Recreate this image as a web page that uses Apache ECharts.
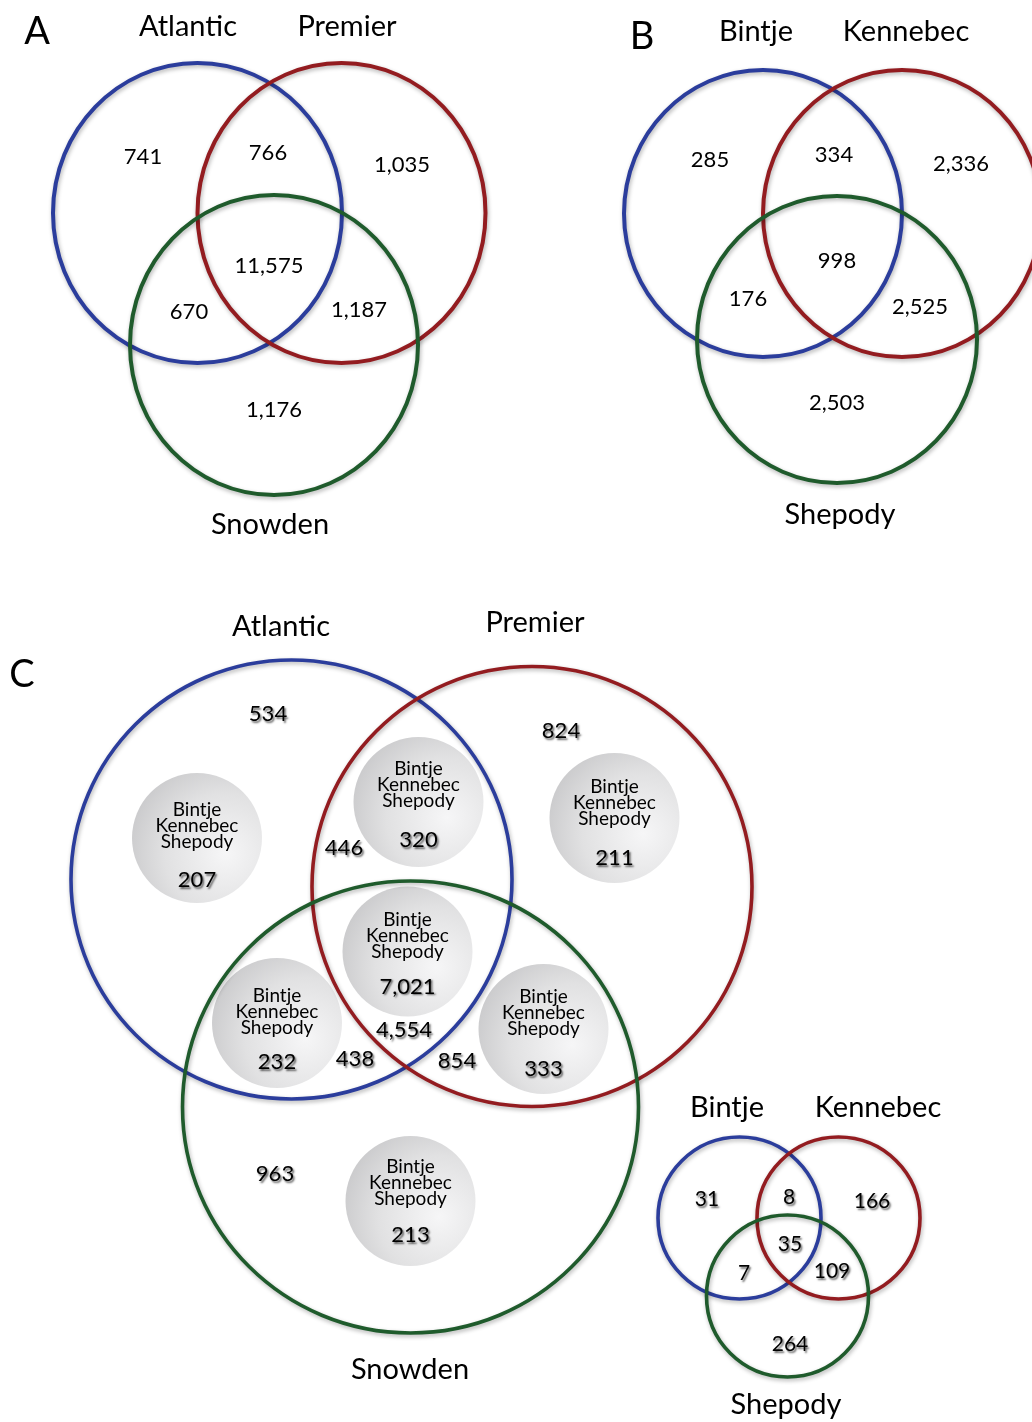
<!DOCTYPE html>
<html>
<head>
<meta charset="utf-8">
<script src="https://cdn.jsdelivr.net/npm/echarts@6/dist/echarts.min.js"></script>
<style>html,body{margin:0;padding:0;background:#fff}#c{width:1032px;height:1422px}</style>
</head>
<body>
<div id="c"></div>
<script>
// ---------- values (region order: only1, only2, only3, 1&2, 1&3, 2&3, all) ----------
const panelLetters = ['A', 'B', 'C'];
const setsA = ['Atlantic', 'Premier', 'Snowden'];
const countsA = [741, 1035, 1176, 766, 670, 1187, 11575];
const setsB = ['Bintje', 'Kennebec', 'Shepody'];
const countsB = [285, 2336, 2503, 334, 176, 2525, 998];
const setsC = ['Atlantic', 'Premier', 'Snowden'];
const countsC = [534, 824, 963, 446, 438, 854, 4554];
const subSets = ['Bintje', 'Kennebec', 'Shepody'];
const countsCsub = [207, 211, 213, 320, 232, 333, 7021];
const setsD = ['Bintje', 'Kennebec', 'Shepody'];
const countsD = [31, 166, 264, 8, 7, 109, 35];

// ---------- layout (positions / sizes, in canvas units) ----------
const letterPos = [[37, 32], [642, 37], [22, 675]];
const circlesA = [[197.5, 213, 144.5, 150], [341.5, 213, 144, 150], [274, 345, 144, 150]];
const circlesB = [[763, 213.5, 139, 143.5], [902, 213.5, 139, 143.5], [837, 339.5, 140, 143.5]];
const circlesC = [[291.5, 879.5, 220.5, 219.5], [532, 886.5, 220, 220], [410.5, 1107, 228, 226]];
const circlesD = [[739.5, 1218, 81.5, 81], [838.5, 1218, 81.5, 81], [787.5, 1296, 81, 81]];
const strokeWidths = [4, 4, 3.6, 3.6];
const setPosA = [[188, 27], [347, 27], [270, 525]];
const setPosB = [[756, 32], [906, 32], [840, 515]];
const setPosC = [[281, 627], [535, 623], [410, 1370]];
const setPosD = [[727, 1108], [878, 1108], [786, 1405]];
const labelPosA = [[143, 157], [402, 165], [274, 410], [268, 153], [189, 312], [359, 310], [269, 266]];
const labelPosB = [[710, 160], [961, 164], [837, 403], [834, 155], [748, 299], [920, 307], [837, 261]];
const labelPosC = [[268, 714], [561, 731], [275, 1174], [344, 848], [355, 1059], [457, 1061], [404, 1030]];
const labelPosD = [[707, 1199], [872, 1201], [790, 1344], [789, 1197], [744, 1273], [832, 1271], [790, 1244]];
// gray discs: [cx, cy, r, middle-name dy, number dy]
const discLayout = [[197, 838, 65, -12, 42], [614.5, 818, 65, -15, 40], [410.5, 1201, 65, -18, 34],
                    [418.5, 802, 65, -17, 38], [277, 1023, 65, -11, 39], [543.5, 1029, 65, -16, 40],
                    [407.5, 951.5, 65, -16, 35]];

const COLORS = ['#2b3d9c', '#931c20', '#1f5b2c'];
const FONT = 'Lato, "Open Sans", "DejaVu Sans", sans-serif';
const fmt = v => v.toLocaleString('en-US');

// ---------- build series data ----------
const ringData = [];
[circlesA, circlesB, circlesC, circlesD].forEach((list, p) => {
  list.forEach((c, i) => ringData.push([c[0], c[1], c[2], c[3], i, strokeWidths[p]]));
});

const discData = discLayout.map(d => [d[0], d[1], d[2]]);

const texts = []; // {text, kind}
const textData = [];
function addText(x, y, text, kind) {
  texts.push({ text: text, kind: kind });
  textData.push([x, y, texts.length - 1]);
}
panelLetters.forEach((l, i) => addText(letterPos[i][0], letterPos[i][1], l, 'letter'));
setsA.forEach((s, i) => addText(setPosA[i][0], setPosA[i][1], s, 'set'));
setsB.forEach((s, i) => addText(setPosB[i][0], setPosB[i][1], s, 'set'));
setsC.forEach((s, i) => addText(setPosC[i][0], setPosC[i][1], s, 'set'));
setsD.forEach((s, i) => addText(setPosD[i][0], setPosD[i][1], s, 'set'));
countsA.forEach((v, i) => addText(labelPosA[i][0], labelPosA[i][1], fmt(v), 'num'));
countsB.forEach((v, i) => addText(labelPosB[i][0], labelPosB[i][1], fmt(v), 'num'));
countsC.forEach((v, i) => addText(labelPosC[i][0], labelPosC[i][1], fmt(v), 'numC'));
countsD.forEach((v, i) => addText(labelPosD[i][0], labelPosD[i][1], fmt(v), 'numD'));
countsCsub.forEach((v, i) => {
  const d = discLayout[i];
  subSets.forEach((s, k) => addText(d[0], d[1] + d[3] + (k - 1) * 16, s, 'sub'));
  addText(d[0], d[1] + d[4], fmt(v), 'numC');
});

const KIND = {
  letter: { fontSize: 38, shadow: false },
  set: { fontSize: 29, shadow: false },
  num: { fontSize: 22, shadow: false },
  numC: { fontSize: 22, shadow: true },
  numD: { fontSize: 21, shadow: true },
  sub: { fontSize: 19, shadow: false }
};

// ---------- chart ----------
const chart = echarts.init(document.getElementById('c'), null, { renderer: 'canvas', width: 1032, height: 1422 });

chart.setOption({
  animation: false,
  backgroundColor: '#ffffff',
  grid: { left: 0, right: 0, top: 0, bottom: 0 },
  xAxis: { type: 'value', min: 0, max: 1032, show: false },
  yAxis: { type: 'value', min: 0, max: 1422, inverse: true, show: false },
  series: [
    {
      type: 'custom',
      name: 'discs',
      clip: false,
      data: discData,
      encode: { x: 0, y: 1 },
      renderItem: function (params, api) {
        const c = api.coord([api.value(0), api.value(1)]);
        const s = api.size([api.value(2), api.value(2)]);
        return {
          type: 'circle',
          shape: { cx: c[0], cy: c[1], r: s[0] },
          style: {
            fill: new echarts.graphic.RadialGradient(0.72, 0.62, 0.85, [
              { offset: 0, color: '#f6f6f7' },
              { offset: 0.55, color: '#e1e1e2' },
              { offset: 1, color: '#c4c4c6' }
            ]),
            shadowBlur: 3,
            shadowColor: 'rgba(255,255,255,0.9)'
          }
        };
      }
    },
    {
      type: 'custom',
      name: 'sets',
      clip: false,
      data: ringData,
      encode: { x: 0, y: 1 },
      renderItem: function (params, api) {
        const c = api.coord([api.value(0), api.value(1)]);
        const s = api.size([api.value(2), api.value(3)]);
        return {
          type: 'ellipse',
          shape: { cx: c[0], cy: c[1], rx: s[0], ry: s[1] },
          style: {
            fill: 'none',
            stroke: COLORS[api.value(4)],
            lineWidth: api.value(5),
            shadowBlur: 4,
            shadowColor: 'rgba(0,0,0,0.3)',
            shadowOffsetX: 1,
            shadowOffsetY: 2
          }
        };
      }
    },
    {
      type: 'custom',
      name: 'labels',
      clip: false,
      data: textData,
      encode: { x: 0, y: 1 },
      renderItem: function (params, api) {
        const c = api.coord([api.value(0), api.value(1)]);
        const t = texts[api.value(2)];
        const k = KIND[t.kind];
        const style = {
          text: t.text,
          fontSize: k.fontSize,
          fontFamily: FONT,
          fill: '#000000',
          align: 'center',
          verticalAlign: 'middle'
        };
        if (k.shadow) {
          style.textShadowColor = 'rgba(0,0,0,0.6)';
          style.textShadowBlur = 2;
          style.textShadowOffsetX = 1.5;
          style.textShadowOffsetY = 1.8;
        }
        return { type: 'text', x: c[0], y: c[1], style: style };
      }
    }
  ]
});
</script>
</body>
</html>
